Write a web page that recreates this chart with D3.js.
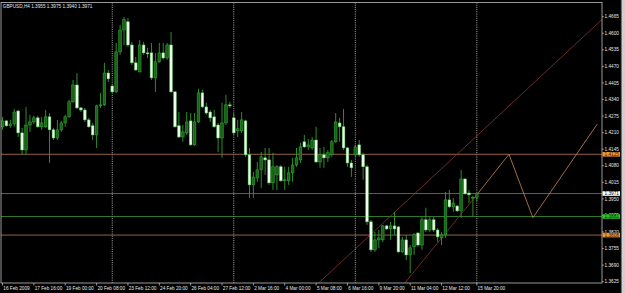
<!DOCTYPE html>
<html><head><meta charset="utf-8">
<script src="https://cdn.jsdelivr.net/npm/d3@7/dist/d3.min.js"></script>
<style>html,body{margin:0;padding:0;background:#000;overflow:hidden}</style>
</head><body>
<svg id="c" width="625" height="293"></svg>
<script>
const headerText = "GBPUSD,H4 1.3955 1.3975 1.3940 1.3971";

const opens = [1.4233,1.4256,1.4237,1.4244,1.4295,1.4209,1.4142,1.4240,1.4252,1.4268,
1.4233,1.4233,1.4272,1.4221,1.4189,1.4221,1.4248,1.4272,1.4331,1.4397,
1.4307,1.4299,1.4260,1.4237,1.4201,1.4315,1.4319,1.4444,1.4393,1.4370,
1.4527,1.4613,1.4645,1.4554,1.4484,1.4448,1.4554,1.4523,1.4523,1.4425,
1.4488,1.4523,1.4503,1.4554,1.4370,1.4237,1.4193,1.4209,1.4256,1.4162,
1.4252,1.4366,1.4311,1.4291,1.4272,1.4240,1.4189,1.4248,1.4319,1.4268,
1.4217,1.4217,1.4256,1.4123,1.4005,1.4032,1.4064,1.4111,1.4103,1.4013,
1.4044,1.4076,1.4021,1.4021,1.4052,1.4083,1.4103,1.4174,1.4154,1.4150,
1.4181,1.4095,1.4123,1.4111,1.4123,1.4174,1.4248,1.4233,1.4150,1.4091,
1.4123,1.4162,1.4123,1.4076,1.3860,1.3750,1.3789,1.3789,1.3844,1.3832,
1.3844,1.3840,1.3742,1.3789,1.3730,1.3762,1.3816,1.3769,1.3868,1.3828,
1.3868,1.3828,1.3797,1.3809,1.3946,1.3919,1.3922,1.3903,1.4028,1.3973,
1.3954,1.3955];
const highs = [1.4272,1.4260,1.4260,1.4303,1.4299,1.4229,1.4311,1.4280,1.4276,1.4276,
1.4272,1.4299,1.4287,1.4229,1.4260,1.4256,1.4280,1.4339,1.4417,1.4444,
1.4311,1.4307,1.4268,1.4248,1.4319,1.4366,1.4484,1.4456,1.4397,1.4562,
1.4633,1.4664,1.4660,1.4566,1.4507,1.4574,1.4566,1.4543,1.4562,1.4523,
1.4562,1.4562,1.4562,1.4605,1.4374,1.4291,1.4240,1.4291,1.4287,1.4287,
1.4382,1.4378,1.4327,1.4299,1.4299,1.4248,1.4327,1.4358,1.4331,1.4287,
1.4260,1.4291,1.4260,1.4150,1.4056,1.4095,1.4134,1.4150,1.4150,1.4131,
1.4083,1.4083,1.4076,1.4076,1.4111,1.4150,1.4170,1.4201,1.4185,1.4193,
1.4233,1.4150,1.4154,1.4142,1.4181,1.4287,1.4268,1.4303,1.4154,1.4103,
1.4162,1.4181,1.4131,1.4083,1.3868,1.3820,1.3828,1.3848,1.3848,1.3860,
1.3899,1.3844,1.3801,1.3809,1.3769,1.3816,1.3820,1.3879,1.3915,1.3879,
1.3879,1.3836,1.3820,1.3977,1.3985,1.3954,1.3926,1.4064,1.4032,1.3985,
1.3962,1.3975];
const lows = [1.4221,1.4233,1.4229,1.4233,1.4193,1.4123,1.4123,1.4213,1.4244,1.4229,
1.4221,1.4229,1.4091,1.4181,1.4181,1.4213,1.4233,1.4268,1.4327,1.4303,
1.4291,1.4252,1.4229,1.4181,1.4150,1.4307,1.4315,1.4409,1.4366,1.4366,
1.4515,1.4554,1.4547,1.4476,1.4452,1.4448,1.4515,1.4503,1.4417,1.4370,
1.4484,1.4496,1.4496,1.4366,1.4229,1.4189,1.4174,1.4201,1.4158,1.4158,
1.4248,1.4307,1.4280,1.4252,1.4229,1.4134,1.4111,1.4240,1.4307,1.4201,
1.4193,1.4209,1.4115,1.3954,1.3954,1.4017,1.3993,1.4044,1.4005,1.3985,
1.3985,1.4017,1.3985,1.4005,1.4017,1.4076,1.4091,1.4150,1.4142,1.4142,
1.4091,1.4072,1.4072,1.4095,1.4115,1.4170,1.4174,1.4142,1.4076,1.4036,
1.4115,1.4115,1.4025,1.3848,1.3742,1.3742,1.3757,1.3781,1.3828,1.3789,
1.3809,1.3738,1.3738,1.3710,1.3659,1.3730,1.3762,1.3750,1.3820,1.3820,
1.3820,1.3781,1.3769,1.3797,1.3915,1.3899,1.3899,1.3875,1.3966,1.3934,
1.3883,1.3940];
const closes = [1.4256,1.4237,1.4244,1.4291,1.4209,1.4142,1.4240,1.4252,1.4268,1.4233,
1.4248,1.4272,1.4221,1.4189,1.4221,1.4248,1.4272,1.4331,1.4397,1.4307,
1.4299,1.4260,1.4233,1.4201,1.4315,1.4319,1.4444,1.4421,1.4370,1.4527,
1.4613,1.4653,1.4554,1.4484,1.4456,1.4554,1.4523,1.4519,1.4425,1.4488,
1.4523,1.4503,1.4554,1.4370,1.4233,1.4193,1.4213,1.4252,1.4162,1.4252,
1.4366,1.4311,1.4287,1.4268,1.4233,1.4189,1.4248,1.4319,1.4315,1.4209,
1.4225,1.4260,1.4123,1.4005,1.4036,1.4064,1.4115,1.4103,1.4013,1.4076,
1.4076,1.4021,1.4025,1.4052,1.4083,1.4111,1.4154,1.4154,1.4162,1.4181,
1.4095,1.4123,1.4111,1.4131,1.4174,1.4252,1.4233,1.4150,1.4091,1.4072,
1.4154,1.4123,1.4076,1.3860,1.3750,1.3789,1.3797,1.3844,1.3832,1.3844,
1.3832,1.3742,1.3789,1.3730,1.3758,1.3809,1.3769,1.3868,1.3828,1.3868,
1.3828,1.3801,1.3809,1.3946,1.3919,1.3934,1.3903,1.4028,1.3970,1.3966,
1.3956,1.3971];

const timeTickBars = [0,8,16,24,32,40,48,56,64,72,80,88,96,104,112,121];
const timeTickLabels = ["16 Feb 2009","17 Feb 16:00","19 Feb 00:00","20 Feb 08:00","23 Feb 12:00",
"24 Feb 20:00","26 Feb 04:00","27 Feb 12:00","2 Mar 16:00","4 Mar 00:00","5 Mar 08:00",
"6 Mar 16:00","9 Mar 20:00","11 Mar 04:00","12 Mar 12:00","15 Mar 20:00"];
const priceTicks = [1.4665,1.4600,1.4535,1.4470,1.4405,1.4340,1.4275,1.4210,1.4145,1.4080,
1.4015,1.3950,1.3885,1.3820,1.3755,1.3690,1.3625];
const weekSeparatorBars = [28,59,90,121];

const levelPrices = [1.4125,1.3971,1.3881,1.3808];
const levelKinds = ["orange","bid","green","orange"];

const upperChannel = [[81.0,1.3625],[124.4,1.4246]];
const lowerChannel = [[102.7,1.3621],[121.1,1.3968]];
const projection = [[121.1,1.3968],[129.2,1.4125],[135.3,1.3876],[151.7,1.4243]];

// ---------- layout / style ----------
const W = 625, H = 293;
const plot = {left:1, right:602, top:2.5, bottom:283};
const fontFam = "'Liberation Sans', Arial, sans-serif";
const fs = 4.7;
const levelStyle = {
  orange:{line:"#b97a58", box:"#f39234", text:"#3a2000"},
  bid:{line:"#767676", box:"#ffffff", text:"#000000"},
  green:{line:"#3f9a3f", box:"#2fc02f", text:"#063006"}
};

const svg = d3.select("#c");
svg.append("rect").attr("width",W).attr("height",H).attr("fill","#000");

const x = d3.scaleLinear().domain([0,121]).range([2.5, 2.5+3.92*121]);
const y = d3.scaleLinear().domain([1.3625,1.4665]).range([281.7,16.7]);

svg.append("clipPath").attr("id","pc").append("rect")
  .attr("x",plot.left).attr("y",plot.top)
  .attr("width",plot.right-plot.left).attr("height",plot.bottom-plot.top);

const g = svg.append("g").attr("clip-path","url(#pc)");

// week separators
g.selectAll("line.sep").data(weekSeparatorBars).enter().append("line")
  .attr("x1",d=>x(d)).attr("x2",d=>x(d))
  .attr("y1",plot.top).attr("y2",plot.bottom)
  .attr("stroke","#d8d8d8").attr("stroke-width",0.8).attr("stroke-dasharray","1,1.2");

// horizontal levels
g.selectAll("line.lvl").data(levelPrices).enter().append("line")
  .attr("x1",plot.left).attr("x2",plot.right)
  .attr("y1",d=>y(d)).attr("y2",d=>y(d))
  .attr("stroke",(d,i)=>levelStyle[levelKinds[i]].line).attr("stroke-width",0.8);

// trend lines (extended, clipped)
function extLine(p, extLeft, extRight){
  const [a,b] = p;
  const s = (b[1]-a[1])/(b[0]-a[0]);
  const x0 = extLeft ? a[0]-40 : a[0];
  const x1 = extRight ? 160 : b[0];
  return [[x0, a[1]+s*(x0-a[0])],[x1, a[1]+s*(x1-a[0])]];
}
const lineGen = d3.line().x(d=>x(d[0])).y(d=>y(d[1]));
g.append("path").attr("d",lineGen(extLine(upperChannel,true,true)))
  .attr("fill","none").attr("stroke","#8a3434").attr("stroke-width",0.8);
g.append("path").attr("d",lineGen(extLine(lowerChannel,true,false)))
  .attr("fill","none").attr("stroke","#8a3434").attr("stroke-width",0.8);
g.append("path").attr("d",lineGen(projection))
  .attr("fill","none").attr("stroke","#c8855e").attr("stroke-width",0.8);

// candles
const bars = d3.range(opens.length).map(i=>({i,o:opens[i],h:highs[i],l:lows[i],c:closes[i]}));
const bw = 2.7;
const cg = g.append("g");
cg.selectAll("line.wick").data(bars).enter().append("line")
  .attr("x1",d=>x(d.i)).attr("x2",d=>x(d.i))
  .attr("y1",d=>y(d.h)).attr("y2",d=>y(d.l))
  .attr("stroke","#2f9e2f").attr("stroke-width",0.9);
cg.selectAll("rect.body").data(bars).enter().append("rect")
  .attr("x",d=>x(d.i)-bw/2).attr("width",bw)
  .attr("y",d=>Math.min(y(d.o),y(d.c)))
  .attr("height",d=>Math.max(Math.abs(y(d.o)-y(d.c)),0.7))
  .attr("fill",d=>d.c>=d.o ? "#176417" : "#ecfdec")
  .attr("stroke",d=>d.c>=d.o ? "#36b036" : "#5ac85a")
  .attr("stroke-width",0.5);

// frame
svg.append("rect").attr("x",plot.left).attr("y",plot.top)
  .attr("width",plot.right-plot.left).attr("height",plot.bottom-plot.top)
  .attr("fill","none").attr("stroke","#bfbfbf").attr("stroke-width",0.8);

// price axis
const pa = svg.append("g");
pa.selectAll("line.pt").data(priceTicks).enter().append("line")
  .attr("x1",plot.right).attr("x2",plot.right+1.8)
  .attr("y1",d=>y(d)).attr("y2",d=>y(d)).attr("stroke","#cfcfcf").attr("stroke-width",0.7);
pa.selectAll("text.pt").data(priceTicks).enter().append("text")
  .attr("x",plot.right+2.6).attr("y",d=>y(d)).attr("dy","0.35em")
  .attr("fill","#e6e6e6").attr("font-family",fontFam).attr("font-size",fs)
  .text(d=>d.toFixed(4));

// level boxes
const lb = pa.selectAll("g.lb").data(levelPrices).enter().append("g");
lb.append("rect").attr("x",plot.right+0.5).attr("y",d=>y(d)-2.3)
  .attr("width",17.5).attr("height",4.6)
  .attr("fill",(d,i)=>levelStyle[levelKinds[i]].box);
lb.append("text").attr("x",plot.right+2.6).attr("y",d=>y(d)).attr("dy","0.35em")
  .attr("fill",(d,i)=>levelStyle[levelKinds[i]].text)
  .attr("font-family",fontFam).attr("font-size",fs)
  .text(d=>d.toFixed(4));

// time axis
const ta = svg.append("g");
ta.selectAll("line.tt").data(timeTickBars).enter().append("line")
  .attr("x1",d=>x(d)).attr("x2",d=>x(d))
  .attr("y1",plot.bottom).attr("y2",plot.bottom+2.5)
  .attr("stroke","#cfcfcf").attr("stroke-width",0.7);
ta.selectAll("text.tt").data(timeTickBars).enter().append("text")
  .attr("x",d=>x(d)+0.8).attr("y",288.2).attr("dy","0.35em")
  .attr("fill","#e6e6e6").attr("font-family",fontFam).attr("font-size",fs)
  .text((d,i)=>timeTickLabels[i]);

// header
svg.append("text").attr("x",2.8).attr("y",5.9).attr("dy","0.35em")
  .attr("fill","#e6e6e6").attr("font-family",fontFam).attr("font-size",fs)
  .text(headerText);

// window edge on the right
svg.append("rect").attr("x",621.5).attr("y",0).attr("width",3.5).attr("height",H).attr("fill","#cfcfcf");
svg.append("line").attr("x1",621.3).attr("x2",621.3).attr("y1",0).attr("y2",H).attr("stroke","#808080").attr("stroke-width",0.6);
</script>
</body></html>
